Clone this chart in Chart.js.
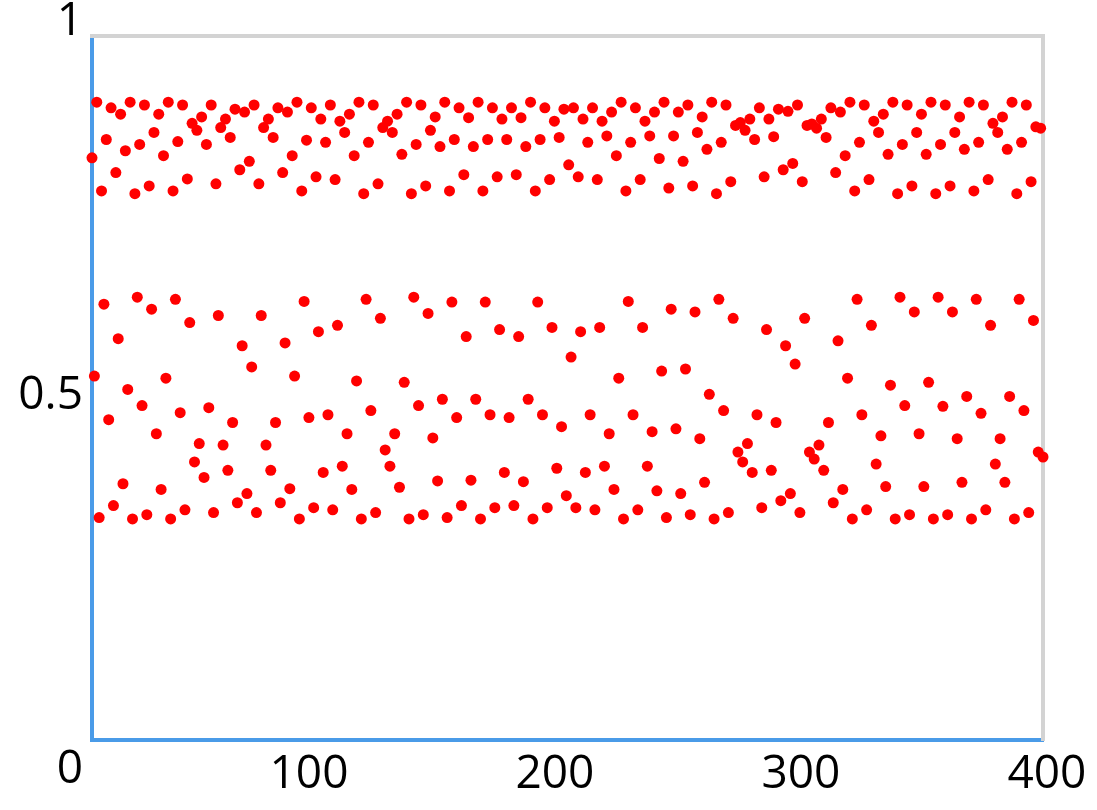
<!DOCTYPE html>
<html>
<head>
<meta charset="utf-8">
<script src="https://cdn.jsdelivr.net/npm/chart.js@4.4.1/dist/chart.umd.min.js"></script>
<style>
  html, body { margin: 0; padding: 0; background: #ffffff; }
  #wrap { width: 1097px; height: 810px; position: relative; }
</style>
</head>
<body>
<div id="wrap"><canvas id="c"></canvas></div>
<script>
// ---- data ----
const yValues = [
  0.827,0.517,0.906,0.316,0.780,0.619,0.853,0.455,0.898,0.333,
  0.806,0.570,0.889,0.364,0.837,0.498,0.906,0.314,0.776,0.629,
  0.846,0.475,0.902,0.320,0.787,0.612,0.863,0.435,0.889,0.356,
  0.830,0.514,0.906,0.314,0.780,0.626,0.850,0.465,0.902,0.327,
  0.797,0.593,0.876,0.395,0.866,0.421,0.885,0.373,0.846,0.472,
  0.902,0.323,0.790,0.603,0.870,0.419,0.882,0.383,0.856,0.451,
  0.896,0.337,0.810,0.560,0.892,0.350,0.822,0.530,0.902,0.323,
  0.790,0.603,0.870,0.419,0.882,0.383,0.856,0.451,0.898,0.337,
  0.806,0.564,0.892,0.357,0.830,0.517,0.906,0.314,0.780,0.623,
  0.852,0.458,0.898,0.330,0.800,0.580,0.882,0.380,0.849,0.462,
  0.902,0.327,0.796,0.589,0.879,0.389,0.863,0.435,0.889,0.356,
  0.830,0.510,0.906,0.314,0.776,0.626,0.849,0.468,0.902,0.323,
  0.790,0.599,0.870,0.412,0.879,0.389,0.863,0.435,0.889,0.359,
  0.832,0.508,0.906,0.314,0.776,0.629,0.846,0.475,0.902,0.320,
  0.787,0.606,0.866,0.429,0.885,0.368,0.843,0.484,0.906,0.316,
  0.780,0.622,0.853,0.458,0.898,0.333,0.803,0.573,0.884,0.369,
  0.843,0.484,0.906,0.314,0.780,0.622,0.853,0.462,0.898,0.330,
  0.800,0.583,0.882,0.380,0.853,0.458,0.898,0.333,0.803,0.573,
  0.884,0.367,0.843,0.484,0.906,0.314,0.780,0.622,0.853,0.462,
  0.898,0.330,0.796,0.586,0.879,0.386,0.856,0.445,0.896,0.347,
  0.817,0.544,0.898,0.330,0.800,0.580,0.882,0.380,0.849,0.462,
  0.898,0.327,0.796,0.586,0.879,0.389,0.858,0.435,0.892,0.356,
  0.830,0.514,0.906,0.314,0.780,0.623,0.849,0.462,0.898,0.327,
  0.796,0.586,0.879,0.389,0.858,0.438,0.892,0.354,0.826,0.524,
  0.906,0.316,0.784,0.612,0.858,0.442,0.892,0.350,0.822,0.527,
  0.902,0.320,0.787,0.608,0.863,0.428,0.885,0.366,0.839,0.491,
  0.906,0.314,0.776,0.626,0.849,0.468,0.902,0.323,0.793,0.599,
  0.873,0.409,0.877,0.395,0.866,0.421,0.882,0.380,0.853,0.462,
  0.898,0.330,0.800,0.583,0.882,0.383,0.857,0.451,0.896,0.340,
  0.810,0.560,0.893,0.350,0.819,0.534,0.902,0.323,0.793,0.599,
  0.873,0.409,0.875,0.399,0.869,0.419,0.882,0.383,0.856,0.451,
  0.898,0.337,0.806,0.567,0.892,0.356,0.830,0.514,0.906,0.314,
  0.780,0.626,0.849,0.462,0.902,0.327,0.796,0.589,0.879,0.392,
  0.863,0.432,0.889,0.360,0.832,0.504,0.906,0.314,0.776,0.629,
  0.846,0.475,0.902,0.320,0.787,0.608,0.863,0.435,0.889,0.360,
  0.832,0.508,0.906,0.314,0.776,0.629,0.846,0.474,0.902,0.320,
  0.787,0.608,0.863,0.428,0.885,0.366,0.839,0.488,0.906,0.314,
  0.780,0.626,0.849,0.464,0.902,0.327,0.796,0.589,0.876,0.392,
  0.863,0.428,0.885,0.366,0.839,0.488,0.906,0.314,0.776,0.626,
  0.849,0.468,0.902,0.323,0.793,0.596,0.871,0.409,0.869,0.402
];
// x categories: step number 1..400 (one point per step)
const steps = yValues.map((_, i) => i + 1);

const xTickValues = [100, 200, 300, 400];
const yTickValues = [0, 0.5, 1];

const xDataRange = [1, 400];
const yDataRange = [0, 1];

// ---- styling ----
const AXIS_BLUE = '#4a9be8';
const FRAME_GREY = '#d3d3d3';
const POINT_RED = '#ff0000';
const LABEL_FONT = { family: '"Open Sans", "Noto Sans", sans-serif', size: 46 };

const zeroPad = s => { s.paddingLeft = 0; s.paddingRight = 0; s.paddingTop = 0; s.paddingBottom = 0; };
const zeroFit = s => { zeroPad(s); if (s.isHorizontal()) s.height = 0; else s.width = 0; };

const points = steps.map((x, i) => ({ x: x, y: yValues[i] }));

new Chart(document.getElementById('c'), {
  type: 'scatter',
  data: {
    datasets: [{
      data: points,
      backgroundColor: POINT_RED,
      borderColor: POINT_RED,
      borderWidth: 0,
      pointRadius: 5.5,
      pointHoverRadius: 5.5,
      clip: false
    }]
  },
  options: {
    responsive: true,
    maintainAspectRatio: false,
    animation: false,
    events: [],
    layout: { padding: { top: 36, right: 54, bottom: 0, left: 0 } },
    plugins: { legend: { display: false }, tooltip: { enabled: false } },
    scales: {
      x: {
        type: 'linear', position: 'bottom', weight: 0,
        min: xDataRange[0], max: xDataRange[1],
        grid: { display: false, drawTicks: false },
        border: { display: true, color: AXIS_BLUE, width: 4 },
        ticks: { display: false },
        afterFit: zeroFit
      },
      y: {
        type: 'linear', position: 'left', weight: 0,
        min: yDataRange[0], max: yDataRange[1],
        grid: { display: false, drawTicks: false },
        border: { display: true, color: AXIS_BLUE, width: 4 },
        ticks: { display: false },
        afterFit: zeroFit
      },
      xTop: {
        type: 'linear', position: 'top', min: xDataRange[0], max: xDataRange[1],
        grid: { display: false, drawTicks: false },
        border: { display: true, color: FRAME_GREY, width: 4 },
        ticks: { display: false },
        afterFit: zeroFit
      },
      yRight: {
        type: 'linear', position: 'right', min: yDataRange[0], max: yDataRange[1],
        grid: { display: false, drawTicks: false },
        border: { display: true, color: FRAME_GREY, width: 4 },
        ticks: { display: false },
        afterFit: zeroFit
      },
      xLabels: {
        type: 'linear', position: 'bottom', weight: 1,
        min: 11.79, max: 398.4,
        afterBuildTicks: s => { s.ticks = xTickValues.map(v => ({ value: v })); },
        grid: { display: false, drawTicks: false },
        border: { display: false },
        ticks: { display: true, autoSkip: false, maxRotation: 0, minRotation: 0, padding: 7,
                 color: '#000000', font: LABEL_FONT, callback: v => String(v) },
        afterFit: s => { zeroPad(s); s.height = 70; }
      },
      yLabels: {
        type: 'linear', position: 'left', weight: 1,
        min: 0.0401, max: 0.9813,
        afterBuildTicks: s => { s.ticks = yTickValues.map(v => ({ value: v })); },
        grid: { display: false, drawTicks: false },
        border: { display: false },
        ticks: { display: true, autoSkip: false, padding: 9,
                 color: '#000000', font: LABEL_FONT, callback: v => String(v) },
        afterFit: s => { zeroPad(s); s.width = 92; }
      }
    }
  }
});
</script>
</body>
</html>
